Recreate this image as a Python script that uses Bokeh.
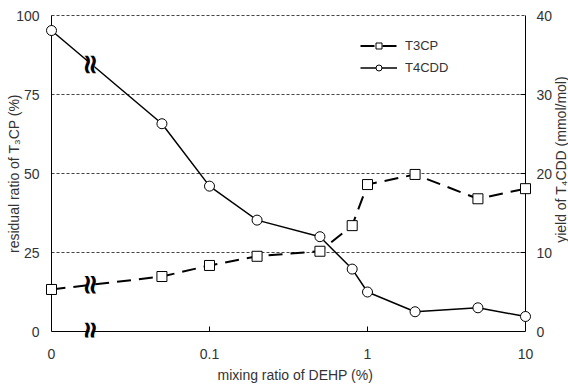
import math
import numpy as np
from bokeh.plotting import figure
from bokeh.models import Range1d, FixedTicker, Legend, LegendItem, Label, Title
from bokeh.core.properties import value
from bokeh.embed import file_html
from bokeh.resources import INLINE

# ---------------- data ----------------
# first point is the "0" (no DEHP) sample, plotted at the 0.01 position of the broken log axis
mixing_ratio = [0.01, 0.05, 0.1, 0.2, 0.5, 0.8, 1, 2, 5, 10]
t3cp_residual = [13.3, 17.4, 20.9, 23.8, 25.4, 33.5, 46.5, 49.7, 42.0, 45.2]   # %
t4cdd_yield = [38.1, 26.3, 18.4, 14.1, 12.0, 7.9, 5.0, 2.5, 3.0, 1.9]          # mmol/mol
x_tick_values = [0.01, 0.1, 1, 10]
x_tick_labels = ["0", "0.1", "1", "10"]
left_ticks = [0, 25, 50, 75, 100]
right_ticks = [0, 10, 20, 30, 40]
right_tick_labels = ["0", "10", "20", "30", "40"]
break_x = 0.018

# ---------------- layout ----------------
W, H = 568, 387
BL, BR, BT, BB = 45, 0, 9, 50
PAD_L, PAD_R, PAD_V = 6, 43, 6          # inner padding of the frame (px)
FW = W - BL - BR
FH = H - BT - BB
XMIN, XMAX = x_tick_values[0], x_tick_values[-1]
YMIN, YMAX = left_ticks[0], left_ticks[-1]
RMIN, RMAX = right_ticks[0], right_ticks[-1]
decades = math.log10(XMAX / XMIN)
ppd = (FW - PAD_L - PAD_R) / decades
ypx = (YMAX - YMIN) / (FH - 2 * PAD_V)
rscale = (RMAX - RMIN) / (YMAX - YMIN)

x_range = Range1d(XMIN * 10 ** (-PAD_L / ppd), XMAX * 10 ** (PAD_R / ppd))
y_range = Range1d(YMIN - PAD_V * ypx, YMAX + PAD_V * ypx)
right_range = Range1d(RMIN - PAD_V * ypx * rscale, RMAX + PAD_V * ypx * rscale)


def cx_to_x(cx):
    return XMIN * 10 ** ((cx - BL - PAD_L) / ppd)


def cy_to_y(cy):
    return YMIN + (H - BB - PAD_V - cy) * ypx


FONT = "Liberation Sans"
TXT = "#333333"

p = figure(width=W, height=H, x_axis_type="log", x_range=x_range, y_range=y_range,
           output_backend="svg", toolbar_location=None,
           min_border_left=BL, min_border_right=BR, min_border_top=BT, min_border_bottom=BB)
p.extra_y_ranges = {"right": right_range}
p.outline_line_color = None
p.xgrid.visible = False
p.ygrid.visible = False
p.background_fill_color = "white"

xa = p.xaxis[0]
ya = p.yaxis[0]
xa.ticker = FixedTicker(ticks=x_tick_values)
xa.major_label_overrides = dict(zip(x_tick_values, x_tick_labels))
ya.ticker = FixedTicker(ticks=left_ticks)
ya.axis_label = "residual ratio of T\u2083CP (%)"

for ax, so, lso in ((xa, 11, 0), (ya, 6, -9)):
    ax.axis_line_color = None
    ax.major_tick_line_color = None
    ax.minor_tick_line_color = None
    ax.major_tick_in = 0
    ax.major_tick_out = 0
    ax.major_label_standoff = so
    ax.major_label_text_font = FONT
    ax.major_label_text_font_size = "14px"
    ax.major_label_text_color = TXT
    ax.axis_label_standoff = lso
    ax.axis_label_text_font = FONT
    ax.axis_label_text_font_size = "14px"
    ax.axis_label_text_font_style = "normal"
    ax.axis_label_text_color = TXT

# x-axis title, placed under the axis
p.add_layout(Title(text="mixing ratio of DEHP (%)", align="left", offset=172, standoff=6,
                   text_font=FONT, text_font_size="14px", text_font_style="normal",
                   text_color=TXT), "below")

# gridlines (dashed) at the left-axis ticks
for gy in left_ticks[1:]:
    p.line([XMIN, XMAX], [gy, gy], line_color="#444444", line_width=1, line_dash="3 2")

# axis lines
p.line([XMIN, XMIN], [YMIN, YMAX], line_color="black", line_width=1)
p.line([XMAX, XMAX], [YMIN, YMAX], line_color="black", line_width=1)
p.line([XMIN, XMAX], [YMIN, YMIN], line_color="black", line_width=1)

# inward ticks
for t in x_tick_values[1:-1]:
    p.line([t, t], [YMIN, YMIN + 5 * ypx], line_color="black", line_width=1)
for t in right_ticks[1:-1]:
    p.line([XMAX * 10 ** (-5 / ppd), XMAX], [t, t], y_range_name="right",
           line_color="black", line_width=1)

# right-hand axis tick labels
p.text(x=[XMAX] * len(right_ticks), y=right_ticks, text=right_tick_labels,
       y_range_name="right", x_offset=11, text_align="left", text_baseline="middle",
       text_font=value(FONT), text_font_size="14px", text_color=TXT)

# data lines
t3_line = p.line(mixing_ratio, t3cp_residual, line_color="black", line_width=2, line_dash="14 8")
t4_line = p.line(mixing_ratio, t4cdd_yield, y_range_name="right", line_color="black", line_width=1.5)

# axis-break marks
lx = np.log10(mixing_ratio[:2])
lb = math.log10(break_x)
b_t4 = (np.interp(lb, lx, t4cdd_yield[:2]) - RMIN) / rscale + YMIN
b_t3 = np.interp(lb, lx, t3cp_residual[:2])
break_y = [b_t4, b_t3, YMIN]
p.rect(x=[break_x] * 3, y=break_y, width=5, height=20, width_units="screen",
       height_units="screen", fill_color="white", line_color=None)
p.text(x=[break_x] * 3, y=break_y, text=["\u2248"] * 3, angle=math.pi / 2, x_offset=-2,
       text_font=value("DejaVu Sans"), text_font_style="bold", text_font_size="28px",
       text_align="center", text_baseline="middle", text_color="black")

# markers
t3_pts = p.scatter(mixing_ratio, t3cp_residual, marker="square", size=10,
                   fill_color="white", line_color="black", line_width=1)
t4_pts = p.scatter(mixing_ratio, t4cdd_yield, y_range_name="right", marker="circle", size=10,
                   fill_color="white", line_color="black", line_width=1)

legend = Legend(items=[LegendItem(label="T3CP", renderers=[t3_line, t3_pts]),
                       LegendItem(label="T4CDD", renderers=[t4_line, t4_pts])],
                location=(315, 262), padding=0, margin=0, spacing=7,
                glyph_width=37, glyph_height=15, label_height=15, label_standoff=8,
                label_text_font=FONT, label_text_font_size="13px", label_text_color=TXT,
                background_fill_alpha=0, border_line_color=None)
p.add_layout(legend)

# right-hand title, reading bottom-to-top
p.add_layout(Label(x=cx_to_x(560), y=cy_to_y(159), x_units="data", y_units="data",
                   text="yield of T\u2084CDD (mmol/mol)", angle=math.pi / 2,
                   text_align="center", text_baseline="middle", text_font=FONT,
                   text_font_size="14px", text_color=TXT))

open("out.html", "w").write(file_html(p, INLINE))
